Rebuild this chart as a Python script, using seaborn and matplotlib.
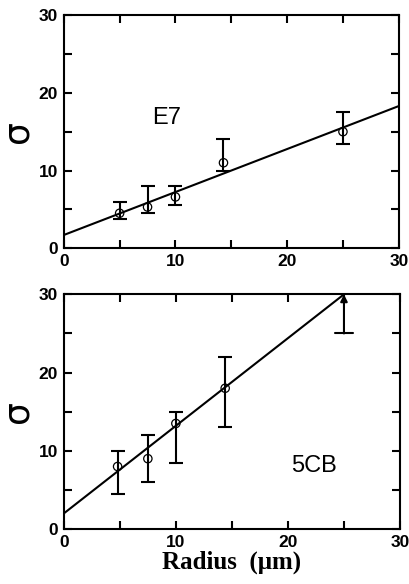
import numpy as np
import pandas as pd
import matplotlib
matplotlib.use("Agg")
import matplotlib.pyplot as plt
import seaborn as sns

# E7 data (radius in um, sigma with asymmetric error bars)
e7_radius = [5.0, 7.5, 10.0, 14.3, 25.0]
e7_sigma = [4.5, 5.3, 6.6, 11.0, 15.0]
e7_low = [3.8, 4.5, 5.5, 10.0, 13.4]
e7_high = [6.0, 8.0, 8.0, 14.0, 17.5]
e7_fit_x = [0, 30]
e7_fit_y = [1.7, 18.3]

# 5CB data
cb_radius = [4.8, 7.5, 10.0, 14.4]
cb_sigma = [8.0, 9.0, 13.5, 18.0]
cb_low = [4.5, 6.0, 8.5, 13.0]
cb_high = [10.0, 12.0, 15.0, 22.0]
cb_fit_x = [0, 25]
cb_fit_y = [2.0, 30.0]
# lower limit shown as an arrow
cb_limit_x = [25.0]
cb_limit_low = [25.0]
cb_limit_high = [30.0]

sns.set_style("ticks")
plt.rcParams['font.family'] = ['Liberation Sans', 'DejaVu Sans']
plt.rcParams.update({'text.color': 'black', 'axes.labelcolor': 'black',
                     'xtick.color': 'black', 'ytick.color': 'black',
                     'axes.edgecolor': 'black'})

fig = plt.figure(figsize=(4.09, 5.84), dpi=100)
ax1 = fig.add_axes([0.156, 0.575, 0.819, 0.399])
ax2 = fig.add_axes([0.156, 0.094, 0.822, 0.402])


def draw_panel(ax, rad, sig, lo, hi, fx, fy):
    sig = np.array(sig)
    yerr = [sig - np.array(lo), np.array(hi) - sig]
    ax.errorbar(rad, sig, yerr=yerr, fmt='none', ecolor='black',
                elinewidth=1.5, capsize=5, capthick=1.5)
    sns.lineplot(x=fx, y=fy, ax=ax, color='black', lw=1.5)
    df = pd.DataFrame({'r': rad, 's': sig})
    sns.scatterplot(data=df, x='r', y='s', ax=ax, marker='o', s=36,
                    facecolor='none', edgecolor='black', linewidth=0.9, zorder=5)


def style_axis(ax):
    ax.set_xlim(0, 30)
    ax.set_ylim(0, 30)
    ax.set_xticks([0, 10, 20, 30])
    ax.set_yticks([0, 10, 20, 30])
    ax.set_xticks([5, 15, 25], minor=True)
    ax.set_yticks([5, 15, 25], minor=True)
    ax.tick_params(which='both', direction='in', top=True, right=True, width=1.5)
    ax.tick_params(which='major', length=6)
    ax.tick_params(which='minor', length=6)
    ax.tick_params(axis='both', labelsize=12.5, pad=4)
    for lab in ax.get_xticklabels() + ax.get_yticklabels():
        lab.set_fontweight('bold')
    for sp in ax.spines.values():
        sp.set_linewidth(1.5)
        sp.set_visible(True)
    ax.set_ylabel('σ', fontsize=26, family=['DejaVu Sans'], labelpad=3)
    ax.set_xlabel('')


draw_panel(ax1, e7_radius, e7_sigma, e7_low, e7_high, e7_fit_x, e7_fit_y)
style_axis(ax1)
ax1.text(9.2, 16.7, 'E7', fontsize=17, ha='center', va='center')

draw_panel(ax2, cb_radius, cb_sigma, cb_low, cb_high, cb_fit_x, cb_fit_y)
style_axis(ax2)
for x, lo, hi in zip(cb_limit_x, cb_limit_low, cb_limit_high):
    ax2.annotate('', xy=(x, hi), xytext=(x, lo),
                 arrowprops=dict(arrowstyle='-|>', color='black', lw=1.5,
                                 mutation_scale=10, shrinkA=0, shrinkB=0),
                 annotation_clip=False)
    ax2.plot([x - 0.8, x + 0.8], [lo, lo], color='black', lw=1.5)
ax2.text(22.3, 8.0, '5CB', fontsize=17, ha='center', va='center')
ax2.set_xlabel('Radius  (μm)', fontsize=18, fontweight='bold',
               family=['Liberation Serif', 'DejaVu Serif'], labelpad=1)

fig.savefig('out.png', dpi=100)
